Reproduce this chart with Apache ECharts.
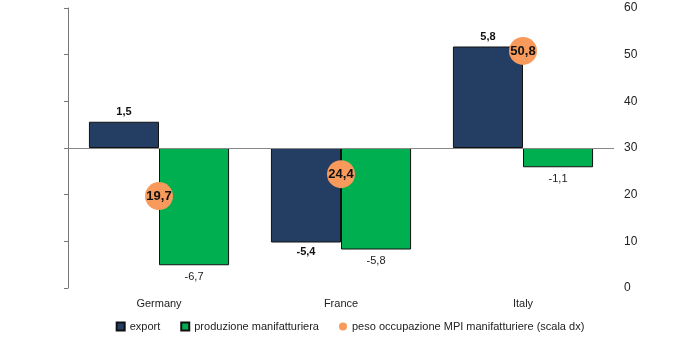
<!DOCTYPE html>
<html>
<head>
<meta charset="utf-8">
<script src="https://cdn.jsdelivr.net/npm/echarts@6/dist/echarts.min.js"></script>
<style>html,body{margin:0;padding:0;background:#fff}#c{width:700px;height:338px}</style>
</head>
<body>
<div id="c"></div>
<script>
const categories = ['Germany', 'France', 'Italy'];
const exportVals = [1.5, -5.4, 5.8];
const produzioneVals = [-6.7, -5.8, -1.1];
const pesoVals = [19.7, 24.4, 50.8];
const seriesNames = ['export', 'produzione manifatturiera', 'peso occupazione MPI manifatturiere (scala dx)'];

const FONT = "'Liberation Sans Narrow', 'Arial Narrow', 'Liberation Sans', sans-serif";
const fmt = v => String(v).replace('.', ',');
const barData = vals => vals.map(v => ({
  value: v,
  label: { position: v < 0 ? 'bottom' : 'top' }
}));

const chart = echarts.init(document.getElementById('c'), null, { renderer: 'canvas' });
chart.setOption({
  animation: false,
  backgroundColor: '#fff',
  textStyle: { fontFamily: FONT },
  grid: { left: 68, right: 86, top: 8, bottom: 50 },
  legend: {
    bottom: 1,
    left: 'center',
    itemWidth: 8,
    itemHeight: 8,
    itemGap: 20,
    textStyle: { fontFamily: FONT, fontSize: 11, color: '#222' },
    data: [
      { name: seriesNames[0], icon: 'rect' },
      { name: seriesNames[1], icon: 'rect' },
      { name: seriesNames[2], icon: 'circle' }
    ]
  },
  xAxis: {
    type: 'category',
    data: categories,
    axisLine: { show: false, onZero: false },
    axisTick: { show: false },
    axisLabel: { fontFamily: FONT, fontSize: 11, color: '#222', margin: 10 }
  },
  yAxis: [
    {
      type: 'value',
      min: -8, max: 8, interval: 16 / 6,
      axisLine: { show: true, lineStyle: { color: '#777' } },
      axisTick: { show: true, inside: false, length: 4, lineStyle: { color: '#777' } },
      axisLabel: { show: false },
      splitLine: { show: false }
    },
    {
      type: 'value',
      min: 0, max: 60, interval: 10,
      position: 'right',
      axisLine: { show: false },
      axisTick: { show: false },
      axisLabel: { fontFamily: FONT, fontSize: 12, color: '#222', margin: 10 },
      splitLine: { show: false }
    }
  ],
  series: [
    {
      name: seriesNames[0],
      type: 'bar',
      data: barData(exportVals),
      barGap: '0%',
      barCategoryGap: '23%',
      itemStyle: { color: '#233E62', borderColor: '#111', borderWidth: 1 },
      label: { show: true, fontFamily: FONT, fontSize: 11, fontWeight: 'bold', color: '#111', formatter: p => fmt(p.value), distance: 4 },
      markLine: {
        silent: true,
        symbol: 'none',
        label: { show: false },
        lineStyle: { color: '#888', width: 1, type: 'solid' },
        data: [{ yAxis: 0 }]
      },
      z: 2
    },
    {
      name: seriesNames[1],
      type: 'bar',
      data: barData(produzioneVals),
      barGap: '0%',
      barCategoryGap: '23%',
      itemStyle: { color: '#00B050', borderColor: '#111', borderWidth: 1 },
      label: { show: true, fontFamily: FONT, fontSize: 11, color: '#222', formatter: p => fmt(p.value), distance: 6 },
      z: 2
    },
    {
      name: seriesNames[2],
      type: 'scatter',
      yAxisIndex: 1,
      data: pesoVals,
      symbol: 'circle',
      symbolSize: 28,
      itemStyle: { color: '#F79A5C', opacity: 1 },
      label: { show: true, position: 'inside', fontFamily: FONT, fontSize: 13, fontWeight: 'bold', color: '#111', formatter: p => fmt(p.value) },
      z: 5
    }
  ]
});
</script>
</body>
</html>
